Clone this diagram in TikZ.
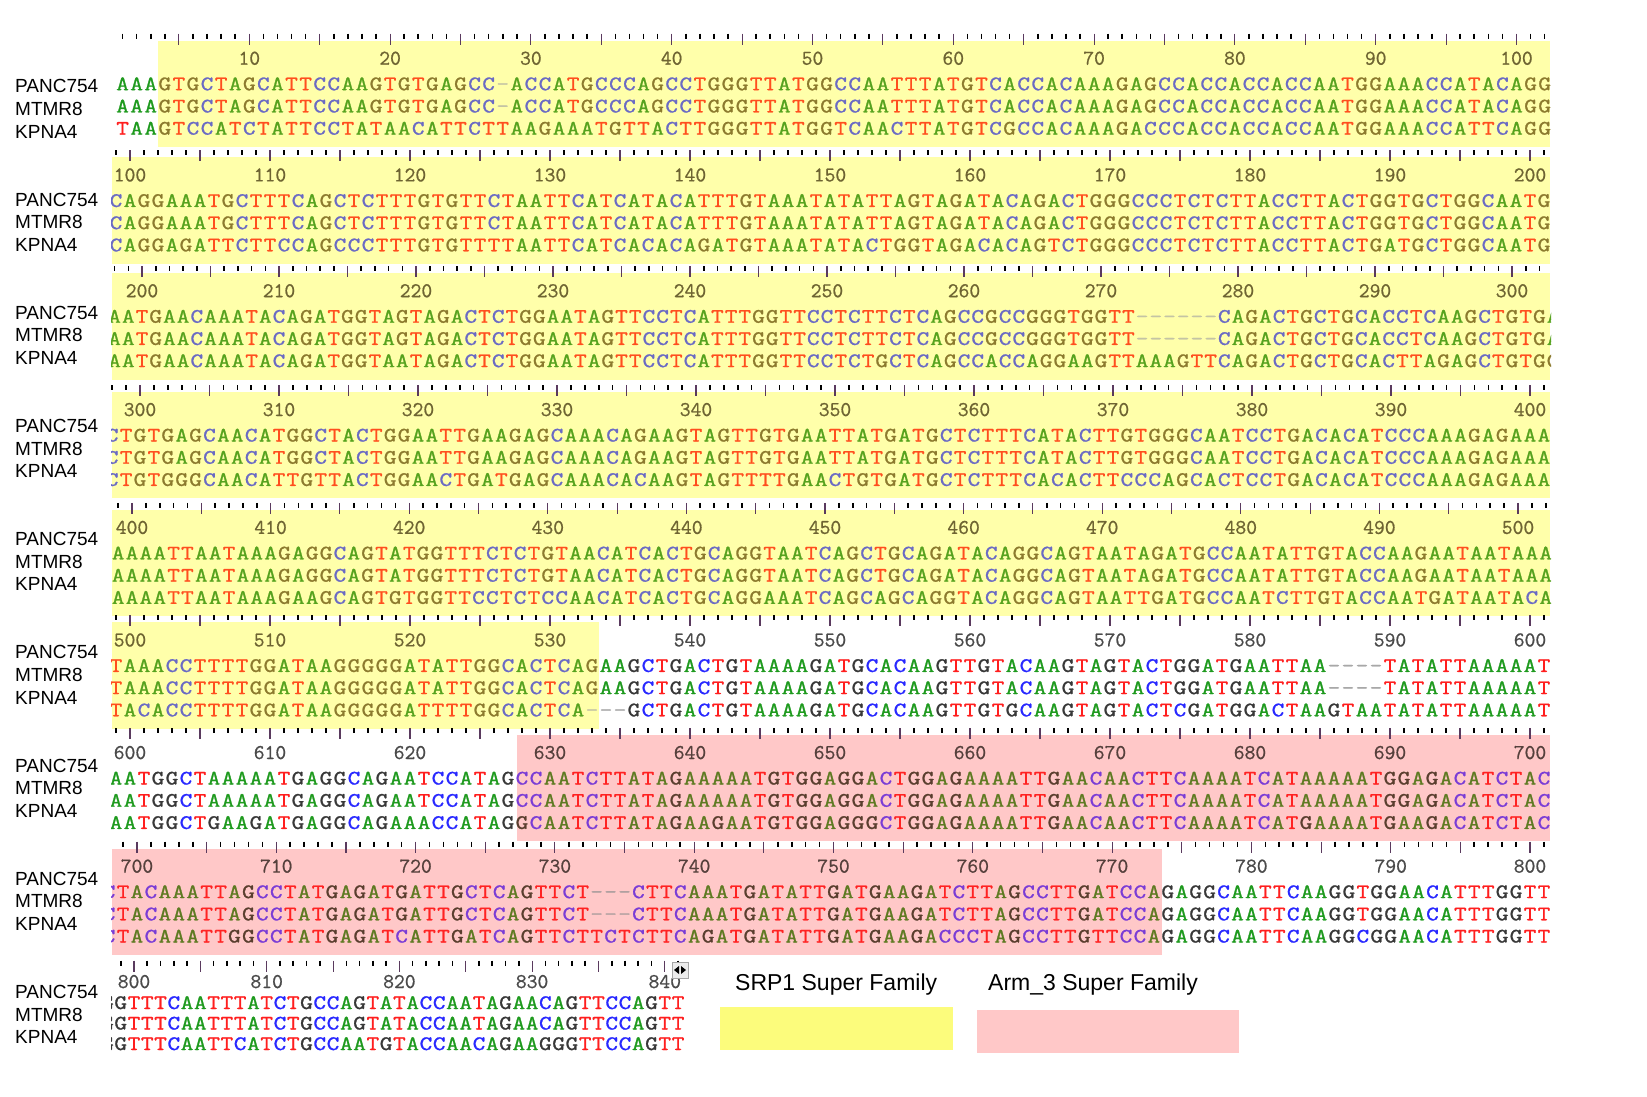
\documentclass[tikz,border=0pt]{standalone}
\usepackage{fontspec}
\setmainfont{Liberation Sans}
\newfontfamily\seqfont[FakeStretch=1.2,FakeBold=1.2]{Latin Modern Mono}
\newfontfamily\numfont[FakeBold=0.8]{Latin Modern Mono}
% nucleotide colours: N = plain, Y = SRP1 highlight, P = Arm_3 highlight, D = gap
\definecolor{AN}{HTML}{1E9A1E}\definecolor{CN}{HTML}{2828FF}
\definecolor{GN}{HTML}{383838}\definecolor{TN}{HTML}{FF1E1E}\definecolor{DN}{HTML}{A8A8A8}
\definecolor{AY}{HTML}{56A21E}\definecolor{CY}{HTML}{6A6AC4}
\definecolor{GY}{HTML}{8C7A2E}\definecolor{TY}{HTML}{FF4E1E}\definecolor{DY}{HTML}{C4C4A4}
\definecolor{AP}{HTML}{5E7A22}\definecolor{CP}{HTML}{7A3CD6}
\definecolor{GP}{HTML}{5A3E2E}\definecolor{TP}{HTML}{FF2222}\definecolor{DP}{HTML}{B0A0A0}
\definecolor{LN}{HTML}{4A4A4A}\definecolor{LY}{HTML}{6E6432}\definecolor{LP}{HTML}{55403C}
\definecolor{hlY}{HTML}{FFFFAA}\definecolor{hlP}{HTML}{FFC8C8}
\definecolor{legY}{HTML}{FCFC7C}\definecolor{legP}{HTML}{FFC8C8}
\definecolor{tickc}{HTML}{5A3A5E}
\tikzset{
  seqname/.style={anchor=west, inner sep=0, font=\fontsize{19}{19}\selectfont},
  nucl/.style={anchor=base, inner sep=0, font=\seqfont\fontsize{20.5}{20.5}\selectfont},
  rulenum/.style={anchor=base, inner sep=0, font=\numfont\fontsize{21}{21}\selectfont},
  legtext/.style={anchor=west, inner sep=0, font=\fontsize{23}{23}\selectfont}
}
\tikzstyle{shorttick} = [line width=1.6pt, black]
\tikzstyle{longtick} = [line width=1.1pt, tickc]

\newcount\seqcol
\def\setreg#1{\def\reg{N}\ifnum#1<\hla\relax\else\ifnum#1>\hlb\relax\else\edef\reg{\hlk}\fi\fi}
\def\seqchar#1{%
  \pgfmathsetmacro\cx{\bx+(\the\seqcol-\bref)*\bp}%
  \setreg{\seqcol}%
  \if#1-\def\lt{D}\else\def\lt{#1}\fi
  \edef\cc{\lt\reg}%
  \node[nucl, text=\cc] at (\cx,\rowy) {#1};}
\def\seqloop#1{\ifx#1\relax\else\seqchar#1\advance\seqcol by 1\relax\expandafter\seqloop\fi}
\def\seqrow#1#2{\seqcol=\bcol\relax\pgfmathsetmacro\rowy{#1}\seqloop#2\relax}
\newcommand\drawblock[2]{%
  \ifnum\hla<9999\relax
    \edef\hlc{hl\hlk}%
    \fill[fill=\hlc] (\hlx,\bT+7) rectangle (\hlX,\bT+\hlbot);
  \fi
  \begin{scope}
    \clip (111,\bT-3) rectangle (\clipX,\bT+\hlbot+3);
    \foreach \c in {\bcol,...,\bend}{%
      \pgfmathsetmacro\tx{\bx+(\c-\bref)*\bp}%
      \pgfmathtruncatemacro\cm{mod(\c,5)}%
      \ifnum\cm=0\relax
        \draw[longtick] (\tx,\bT) -- ++(0,11);
      \else
        \draw[shorttick] (\tx,\bT) -- ++(0,5);
      \fi
      \pgfmathtruncatemacro\cm{mod(\c,10)}%
      \ifnum\cm=0\relax
        \setreg{\c}\edef\lc{L\reg}%
        \node[rulenum, text=\lc] at (\tx,\bT+\labofs) {\c};
      \fi}
    \seqrow{\bT+\rowone}{#1}
    \seqrow{\bT+\rowone+\rowgap}{#1}
    \seqrow{\bT+\rowone+2*\rowgap}{#2}
  \end{scope}}

\begin{document}
\begin{tikzpicture}[x=1pt,y=-1pt]
  \useasboundingbox (0,0) rectangle (1647,1097);
  \fill[white] (0,0) rectangle (1647,1097);
  % sequence names
  \foreach \b in {0,...,8}{
    \node[seqname] (p\b) at (15,86.3+\b*113.2) {PANC754};
    \node[seqname] (m\b) at (15,108.9+\b*113.2) {MTMR8};
    \node[seqname] (k\b) at (15,131.5+\b*113.2) {KPNA4};
  }
  % defaults
  \def\labofs{31}\def\rowone{56.5}\def\rowgap{22.2}\def\hlbot{113.4}\def\clipX{1551}
  % block 1
  \def\bx{249.3}\def\bref{10}\def\bp{14.08}\def\bcol{1}\def\bend{102}\def\bT{33.7}
  \def\hla{4}\def\hlb{9999}\def\hlk{Y}\def\hlx{158}\def\hlX{1550}
  \drawblock{AAAGTGCTAGCATTCCAAGTGTGAGCC-ACCATGCCCAGCCTGGGTTATGGCCAATTTATGTCACCACAAAGAGCCACCACCACCAATGGAAACCATACAGG}
            {TAAGTCCATCTATTCCTATAACATTCTTAAGAAATGTTACTTGGGTTATGGTCAACTTATGTCGCCACAAAGACCCACCACCACCAATGGAAACCATTCAGG}
  % block 2
  \def\bx{130}\def\bref{100}\def\bp{14}\def\bcol{99}\def\bend{201}\def\bT{150.4}
  \def\hla{0}\def\hlb{9999}\def\hlk{Y}\def\hlx{112}\def\hlX{1550}
  \drawblock{CAGGAAATGCTTTCAGCTCTTTGTGTTCTAATTCATCATACATTTGTAAATATATTAGTAGATACAGACTGGGCCCTCTCTTACCTTACTGGTGCTGGCAATG}
            {CAGGAGATTCTTCCAGCCCTTTGTGTTTTAATTCATCACACAGATGTAAATATACTGGTAGACACAGTCTGGGCCCTCTCTTACCTTACTGATGCTGGCAATG}
  % block 3
  \def\bx{142}\def\bref{200}\def\bp{13.7}\def\bcol{198}\def\bend{303}\def\bT{266.2}
  \drawblock{AATGAACAAATACAGATGGTAGTAGACTCTGGAATAGTTCCTCATTTGGTTCCTCTTCTCAGCCGCCGGGTGGTT------CAGACTGCTGCACCTCAAGCTGTGA}
            {AATGAACAAATACAGATGGTAATAGACTCTGGAATAGTTCCTCATTTGGTTCCTCTGCTCAGCCACCAGGAAGTTAAAGTTCAGACTGCTGCACTTAGAGCTGTGG}
  % block 4
  \def\bx{140}\def\bref{300}\def\bp{13.9}\def\bcol{298}\def\bend{401}\def\bT{385}
  \drawblock{CTGTGAGCAACATGGCTACTGGAATTGAAGAGCAAACAGAAGTAGTTGTGAATTATGATGCTCTTTCATACTTGTGGGCAATCCTGACACATCCCAAAGAGAAA}
            {CTGTGGGCAACATTGTTACTGGAACTGATGAGCAAACACAAGTAGTTTTGAACTGTGATGCTCTTTCACACTTCCCAGCACTCCTGACACATCCCAAAGAGAAA}
  % block 5
  \def\bx{132}\def\bref{400}\def\bp{13.86}\def\bcol{399}\def\bend{502}\def\bT{502.9}
  \drawblock{AAAATTAATAAAGAGGCAGTATGGTTTCTCTGTAACATCACTGCAGGTAATCAGCTGCAGATACAGGCAGTAATAGATGCCAATATTGTACCAAGAATAATAAA}
            {AAAATTAATAAAGAAGCAGTGTGGTTCCTCTCCAACATCACTGCAGGAAATCAGCAGCAGGTACAGGCAGTAATTGATGCCAATCTTGTACCAATGATAATACA}
  % block 6
  \def\bx{130}\def\bref{500}\def\bp{14}\def\bcol{499}\def\bend{601}\def\bT{615.4}
  \def\hla{0}\def\hlb{533}\def\hlk{Y}\def\hlx{112}\def\hlX{599}
  \drawblock{TAAACCTTTTGGATAAGGGGGATATTGGCACTCAGAAGCTGACTGTAAAAGATGCACAAGTTGTACAAGTAGTACTGGATGAATTAA----TATATTAAAAAT}
            {TACACCTTTTGGATAAGGGGGATTTTGGCACTCA---GCTGACTGTAAAAGATGCACAAGTTGTGCAAGTAGTACTCGATGGACTAAGTAATATATTAAAAAT}
  % block 7
  \def\bx{130}\def\bref{600}\def\bp{14}\def\bcol{599}\def\bend{701}\def\bT{728}
  \def\hla{628}\def\hlb{9999}\def\hlk{P}\def\hlx{517}\def\hlX{1550}
  \drawblock{AATGGCTAAAAATGAGGCAGAATCCATAGCCAATCTTATAGAAAAATGTGGAGGACTGGAGAAAATTGAACAACTTCAAAATCATAAAAATGGAGACATCTAC}
            {AATGGCTGAAGATGAGGCAGAAACCATAGGCAATCTTATAGAAGAATGTGGAGGGCTGGAGAAAATTGAACAACTTCAAAATCATGAAAATGAAGACATCTAC}
  % block 8
  \def\bx{137}\def\bref{700}\def\bp{13.93}\def\bcol{698}\def\bend{801}\def\bT{841.6}
  \def\hla{0}\def\hlb{773}\def\hlk{P}\def\hlx{112}\def\hlX{1162}
  \drawblock{CTACAAATTAGCCTATGAGATGATTGCTCAGTTCT---CTTCAAATGATATTGATGAAGATCTTAGCCTTGATCCAGAGGCAATTCAAGGTGGAACATTTGGTT}
            {CTACAAATTGGCCTATGAGATCATTGATCAGTTCTTCTCTTCAGATGATATTGATGAAGACCCTAGCCTTGTTCCAGAGGCAATTCAAGGCGGAACATTTGGTT}
  % block 9
  \def\labofs{27.5}\def\rowone{48.5}\def\rowgap{20.5}\def\clipX{692}
  \def\bx{134}\def\bref{800}\def\bp{13.27}\def\bcol{798}\def\bend{841}\def\bT{960.5}
  \def\hla{9999}\def\hlb{0}\def\hlk{N}
  \drawblock{GGTTTCAATTTATCTGCCAGTATACCAATAGAACAGTTCCAGTT}
            {GGTTTCAATTCATCTGCCAATGTACCAACAGAAGGGTTCCAGTT}
  % scroll button
  \node[draw=gray!70, fill=gray!15, minimum size=16pt, inner sep=0] (scroll) at (680,970) {};
  \fill[black] (scroll.center) ++(-1,-4) -- ++(0,8) -- ++(-5,-4) -- cycle;
  \fill[black] (scroll.center) ++(1,-4) -- ++(0,8) -- ++(5,-4) -- cycle;
  % legend
  \node[legtext] (srp) at (735,984.7) {SRP1 Super Family};
  \fill[legY] (720,1006.8) rectangle (953,1050);
  \node[legtext] (arm) at (988,984.7) {Arm\_3 Super Family};
  \fill[legP] (977,1010) rectangle (1239,1053);
\end{tikzpicture}
\end{document}
